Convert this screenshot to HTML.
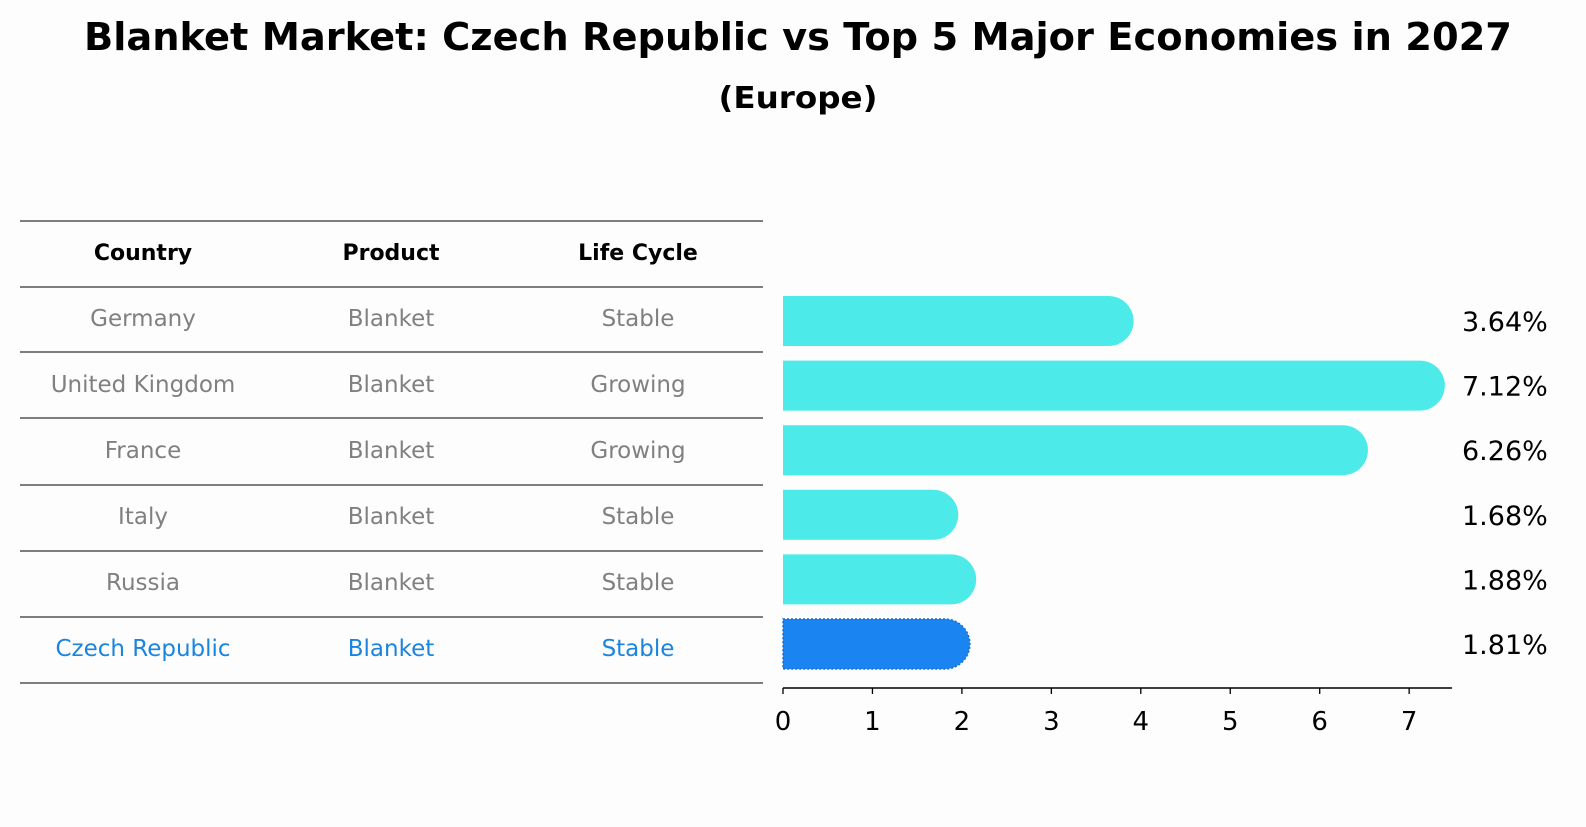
<!DOCTYPE html>
<html><head><meta charset="utf-8"><style>
body{margin:0;background:#fdfdfd;width:1586px;height:823px;overflow:hidden;font-family:"DejaVu Sans","Liberation Sans",sans-serif;}
</style></head><body>
<svg id="chart" width="1586" height="823" xmlns="http://www.w3.org/2000/svg" font-family="DejaVu Sans, Liberation Sans, sans-serif">
<text x="798" y="50" text-anchor="middle" font-size="38" font-weight="bold" textLength="1428" lengthAdjust="spacingAndGlyphs">Blanket Market: Czech Republic vs Top 5 Major Economies in 2027</text>
<text x="798" y="108" text-anchor="middle" font-size="30" font-weight="bold" textLength="159" lengthAdjust="spacingAndGlyphs">(Europe)</text>
<g id="table"></g>
<g id="bars"></g>
</svg>
<script>
const countries=["Germany","United Kingdom","France","Italy","Russia","Czech Republic"];
const products=["Blanket","Blanket","Blanket","Blanket","Blanket","Blanket"];
const lifeCycles=["Stable","Growing","Growing","Stable","Stable","Stable"];
const values=[3.64,7.12,6.26,1.68,1.88,1.81];
const xTicks=[0,1,2,3,4,5,6,7];
const NS="http://www.w3.org/2000/svg";
function mk(p,t,a){const e=document.createElementNS(NS,t);for(const k in a)e.setAttribute(k,a[k]);p.appendChild(e);return e;}
const xs=v=>783+v*89.45;
const rowY=i=>321+i*64.6;
const tb=document.getElementById('table');
const lines=[221,287,352,418,485,551,617,683];
lines.forEach((y,i)=>{const l=mk(tb,'line',{x1:20,x2:763,y1:y,y2:y,stroke:'#000','stroke-width':1});

});
const cx=[143,391,638];
["Country","Product","Life Cycle"].forEach((h,j)=>{const t=mk(tb,'text',{x:cx[j],y:260,'text-anchor':'middle','font-size':22,'font-weight':'bold'});t.textContent=h;

});
countries.forEach((c,i)=>{const y=326+i*66;const col=i===5?'#1a85e0':'#808080';
[c,products[i],lifeCycles[i]].forEach((v,j)=>{const t=mk(tb,'text',{x:cx[j],y:y,'text-anchor':'middle','font-size':23,fill:col});t.textContent=v;

});});
const g=document.getElementById('bars');
const h=50,r=25;
values.forEach((v,i)=>{const yc=rowY(i);const x1=xs(v);const col=i===5?'#1a85f0':'#4deaea';
const p=mk(g,'path',{d:`M783 ${yc-h/2} H${x1} A${r} ${r} 0 0 1 ${x1} ${yc+h/2} H783 Z`,fill:col});
if(i===5){p.setAttribute('stroke','#1a6fd0');p.setAttribute('stroke-dasharray','2 2');p.setAttribute('stroke-width','1.5');}


const t=mk(g,'text',{x:1462,y:yc+10,'font-size':27});t.textContent=v.toFixed(2)+'%';

});
const ax=mk(g,'line',{x1:783,x2:1452,y1:688,y2:688,stroke:'#000','stroke-width':1.5});


xTicks.forEach(v=>{const tk=mk(g,'line',{x1:xs(v),x2:xs(v),y1:688,y2:694,stroke:'#000','stroke-width':1.3});


const t=mk(g,'text',{x:xs(v),y:730,'text-anchor':'middle','font-size':26});t.textContent=v;

});
</script>
</body></html>
